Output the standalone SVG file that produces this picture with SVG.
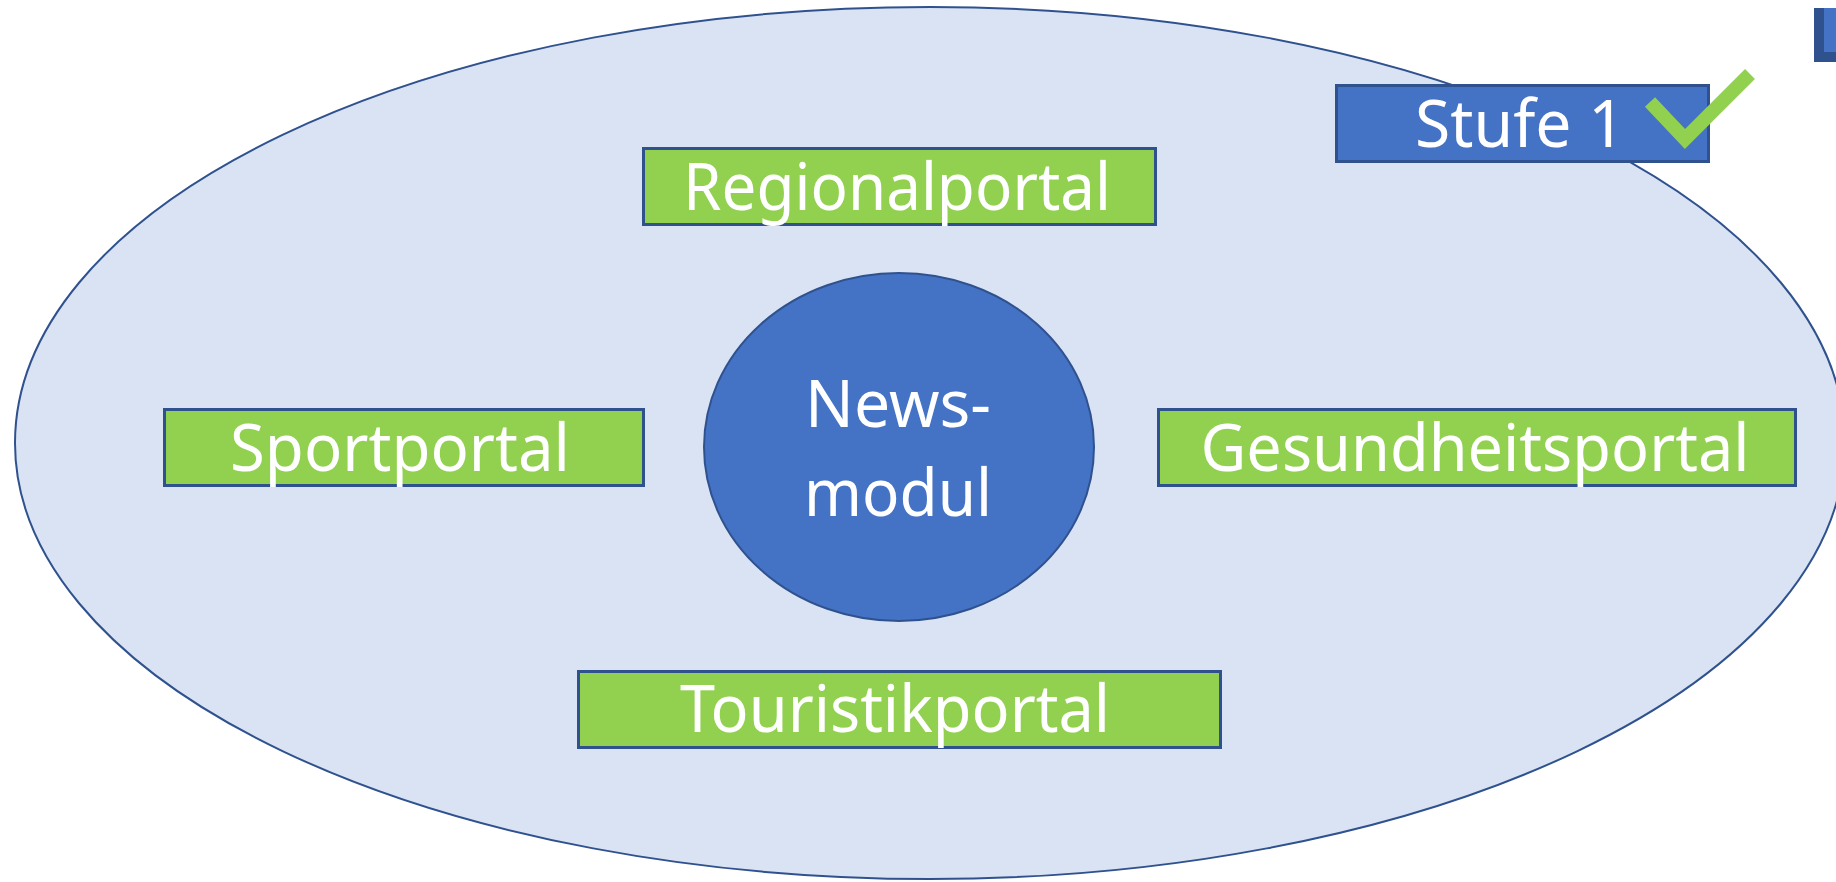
<svg xmlns="http://www.w3.org/2000/svg" width="1836" height="882" viewBox="0 0 1836 882">
<style>
.portal{fill:#92D050;stroke:#2F528F;stroke-width:3}
.blue{fill:#4472C4;stroke:#2F528F}
.lbl{font-family:"Noto Sans","Open Sans","Liberation Sans",sans-serif;font-size:66px;fill:#FFFFFF;text-anchor:middle}
</style>
<rect width="1836" height="882" fill="#FFFFFF"/>
<g id="scope">
<ellipse cx="930" cy="443" rx="915" ry="436" fill="#DAE3F3" stroke="#2F528F" stroke-width="2"/>
</g>
<g id="connectors"/>
<g id="regionalportal">
<rect class="portal" x="643.5" y="148.5" width="512" height="76"/>
<text class="lbl" x="897" y="210" textLength="428" lengthAdjust="spacingAndGlyphs">Regionalportal</text>
</g>
<g id="sportportal">
<rect class="portal" x="164.5" y="409.5" width="479" height="76"/>
<text class="lbl" x="400" y="471" textLength="340" lengthAdjust="spacingAndGlyphs">Sportportal</text>
</g>
<g id="gesundheitsportal">
<rect class="portal" x="1158.5" y="409.5" width="637" height="76"/>
<text class="lbl" x="1475" y="471" textLength="549" lengthAdjust="spacingAndGlyphs">Gesundheitsportal</text>
</g>
<g id="touristikportal">
<rect class="portal" x="578.5" y="671.5" width="642" height="76"/>
<text class="lbl" x="895" y="732" textLength="430" lengthAdjust="spacingAndGlyphs">Touristikportal</text>
</g>
<g id="newsmodul">
<ellipse class="blue" cx="899" cy="447" rx="195" ry="174" stroke-width="2"/>
<text class="lbl" x="898" y="427" textLength="186" lengthAdjust="spacingAndGlyphs">News-</text>
<text class="lbl" x="898" y="516" textLength="188" lengthAdjust="spacingAndGlyphs">modul</text>
</g>
<g id="stufe1">
<rect class="blue" x="1336.5" y="85.5" width="372" height="76" stroke-width="3"/>
<text class="lbl" x="1520" y="147" textLength="210" lengthAdjust="spacingAndGlyphs">Stufe 1</text>
<polyline points="1650,102 1685,139 1750,74" fill="none" stroke="#92D050" stroke-width="14"/>
</g>
<g id="corner-shape">
<rect x="1814" y="8" width="30" height="54" fill="#2F528F"/>
<rect x="1824" y="8" width="20" height="44" fill="#4472C4"/>
</g>
</svg>
